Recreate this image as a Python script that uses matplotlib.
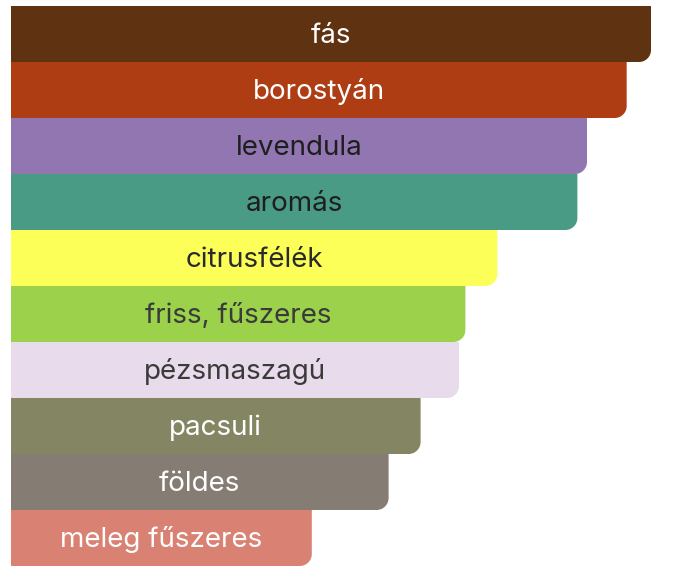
import matplotlib
matplotlib.use("Agg")
import matplotlib.pyplot as plt
from matplotlib.path import Path
from matplotlib.patches import PathPatch

# data
labels = ["fás", "borostyán", "levendula", "aromás", "citrusfélék",
          "friss, fűszeres", "pézsmaszagú", "pacsuli", "földes", "meleg fűszeres"]
values = [100, 96.2, 90, 88.5, 76, 71, 70, 64, 59, 47]
colors = ["#5f3211", "#ae3d14", "#9176b2", "#4a9b85", "#fbff57",
          "#9bd14b", "#e8dbeb", "#848663", "#857d74", "#d98273"]
text_colors = ["white", "white", "#1e1e1e", "#1e1e1e", "#2a2a2a",
               "#3a3a3a", "#3a3a3a", "white", "white", "white"]

W, H, DPI = 678, 569, 100
fig = plt.figure(figsize=(W / DPI, H / DPI), dpi=DPI)
ax = fig.add_axes([11 / W, 3 / H, 640 / W, 560 / H])
ax.set_xlim(0, 100)
ax.set_ylim(len(labels) - 0.5, -0.5)
ax.axis("off")

bars = ax.barh(range(len(labels)), values, height=1.0, color=colors)

# round only the bottom-right corner (radius in pixels)
r_px = 12
rx = r_px * 100 / 640
ry = r_px * len(labels) / 560
k = 0.5523
for b in bars:
    x0, y0 = b.get_x(), b.get_y()
    x1, y1 = x0 + b.get_width(), y0 + b.get_height()  # y1 is the lower edge on screen
    verts = [(x0, y0), (x1, y0), (x1, y1 - ry),
             (x1, y1 - ry + k * ry), (x1 - rx + k * rx, y1), (x1 - rx, y1),
             (x0, y1), (x0, y0)]
    codes = [Path.MOVETO, Path.LINETO, Path.LINETO,
             Path.CURVE4, Path.CURVE4, Path.CURVE4,
             Path.LINETO, Path.CLOSEPOLY]
    ax.add_patch(PathPatch(Path(verts, codes), facecolor=b.get_facecolor(),
                           edgecolor="none"))
    b.set_visible(False)

for i, (lab, v) in enumerate(zip(labels, values)):
    ax.text(v / 2, i + 0.03, lab, ha="center", va="center", fontsize=20,
            color=text_colors[i], family=["Inter", "DejaVu Sans"])

fig.savefig("out.png", dpi=DPI)
